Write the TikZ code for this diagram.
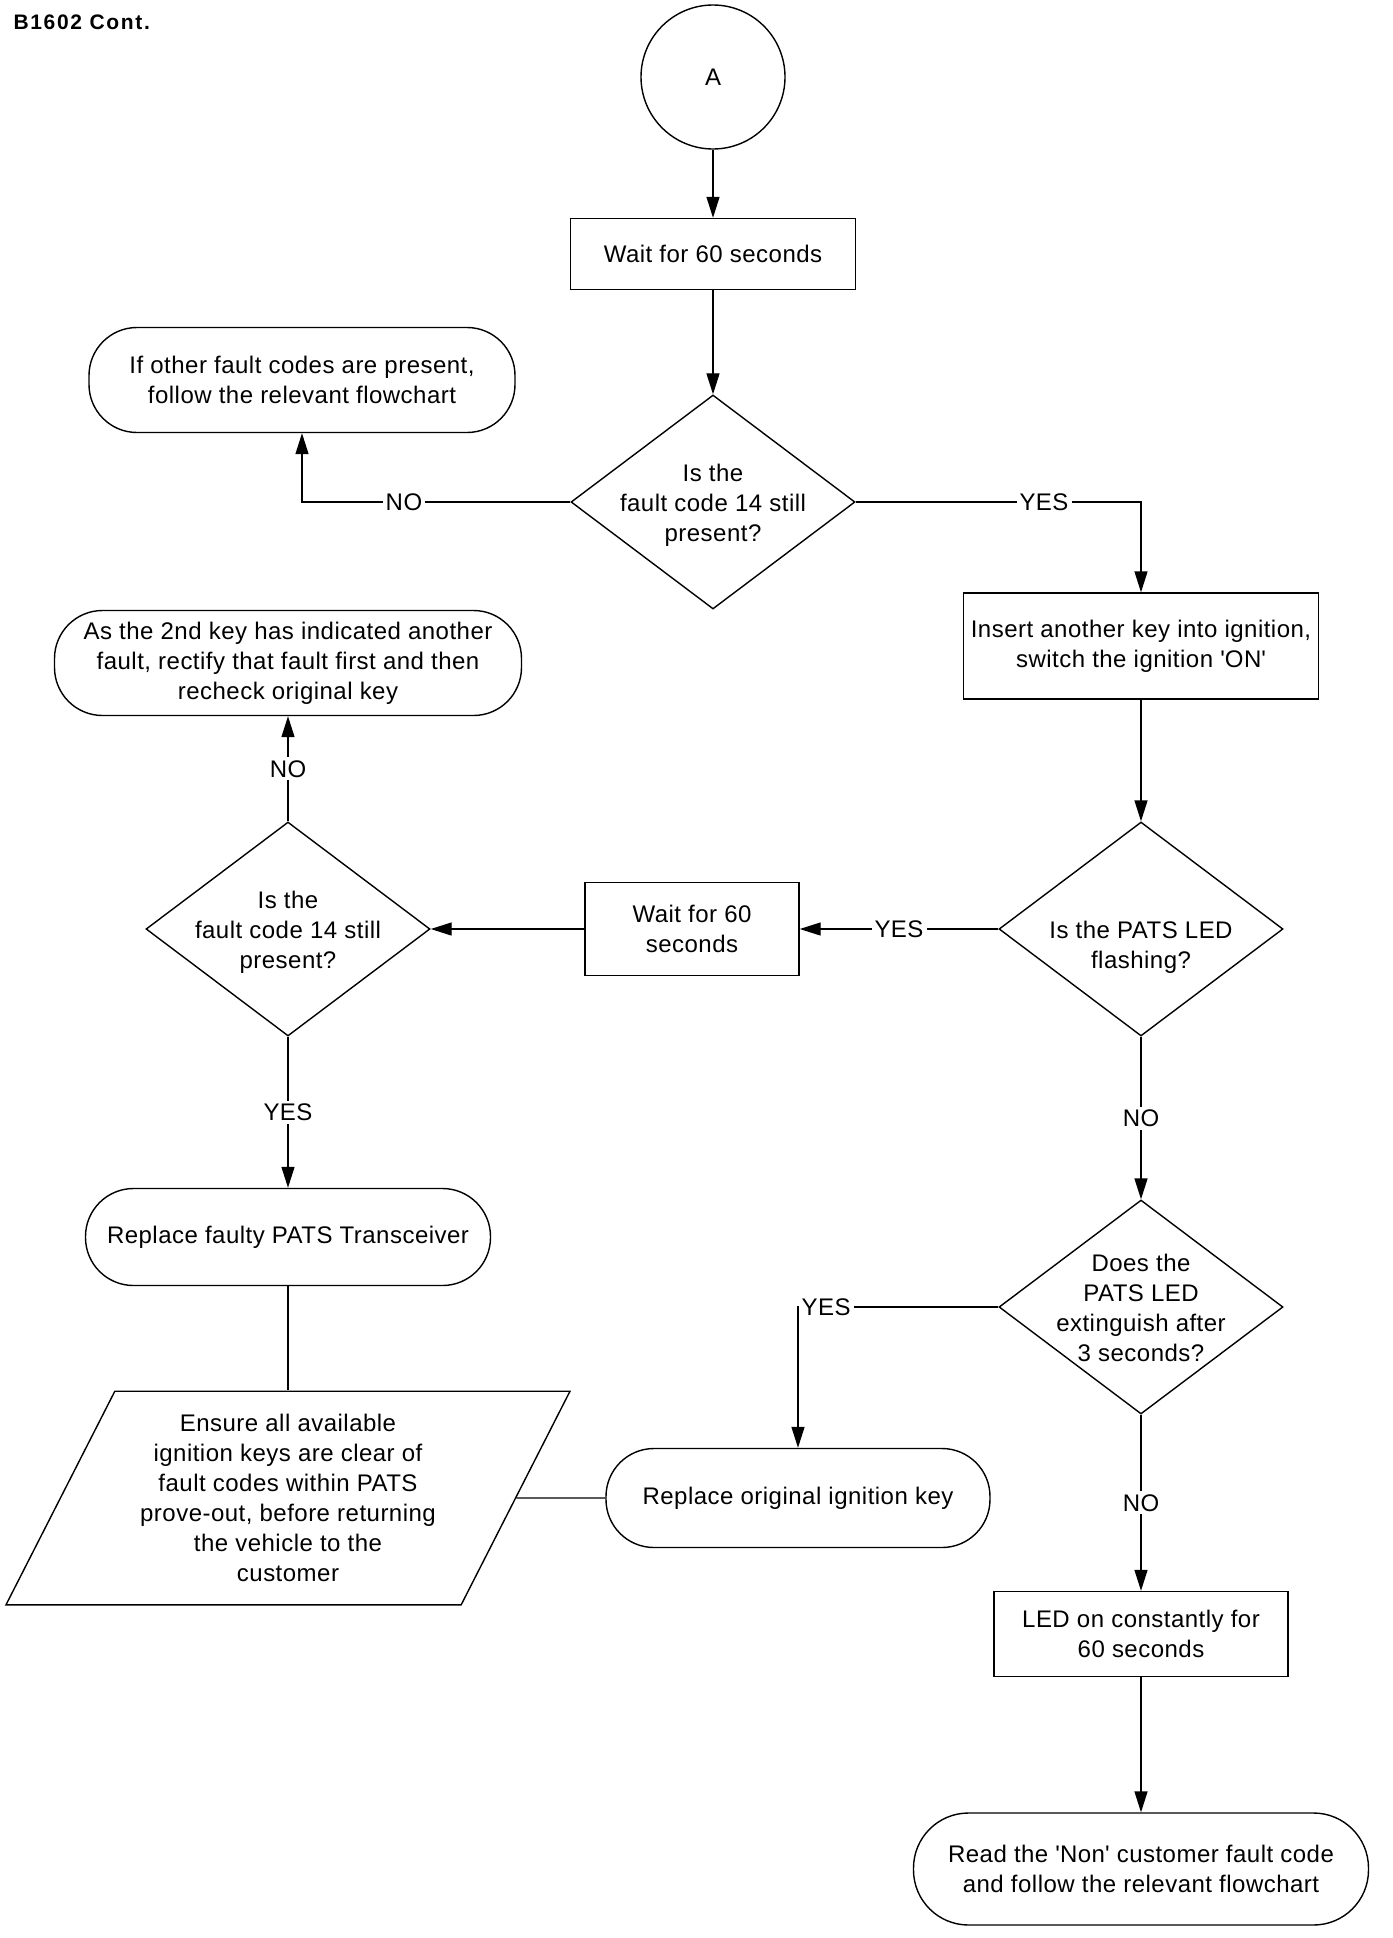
\documentclass[tikz,border=0pt]{standalone}
\usepackage{fontspec}
\setmainfont{Liberation Sans}[LetterSpace=2]
\usepackage{tikz}
\usetikzlibrary{shapes.geometric,arrows.meta}
\tikzstyle{arrow} = [line width=1.4pt, -{Triangle[length=21pt,width=13pt]}]
\tikzstyle{line} = [line width=1.4pt]
\tikzstyle{connector} = [circle, draw=black, line width=1.4pt, minimum size=144pt]
\tikzstyle{process} = [rectangle, draw=black, line width=1.4pt, align=center, inner sep=0pt]
\tikzstyle{terminal} = [rectangle, rounded corners=48pt, draw=black, line width=1.4pt, align=center, inner sep=0pt]
\tikzstyle{decision} = [diamond, draw=black, line width=1.4pt, minimum width=284pt, minimum height=214pt, inner sep=0pt]
\tikzstyle{io} = [trapezium, trapezium left angle=63, trapezium right angle=117, trapezium stretches body,
minimum width=564pt, inner xsep=0pt, inner ysep=23pt, align=center, draw=black, line width=1.4pt]
\tikzstyle{dtext} = [align=center, yshift=-3pt]
\tikzstyle{answer} = [fill=white, inner sep=3pt]

\begin{document}
\begin{tikzpicture}[x=1pt, y=1pt, font=\fontsize{24}{30}\selectfont]
                 \useasboundingbox (0,0) rectangle (1392,-1938);
                 \node (title) [anchor=west, font=\fontsize{21}{25}\selectfont\bfseries\addfontfeature{LetterSpace=8}] at (10,-22) {B1602 Cont.};
                 \node (start) [connector] at (713,-77) {A};
                 \node (wait1) [process, minimum width=285pt, minimum height=71pt, node distance=177pt, below of=start] {Wait for 60 seconds};
                 \node (dec1) [decision, node distance=248pt, below of=wait1,
                     label={[dtext]center:Is the\\fault code 14 still\\present?}] {};
                 \node (other) [terminal, minimum width=426pt, minimum height=105pt] at (302,-380) {%
                     If other fault codes are present,\\follow the relevant flowchart};
                 \node (insert) [process, minimum width=355pt, minimum height=106pt] at (1141,-646) {%
                     Insert another key into ignition,\\switch the ignition \textquotesingle ON\textquotesingle};
                 \node (dec2) [decision, node distance=283pt, below of=insert,
                     label={[dtext, yshift=-15pt]center:Is the PATS LED\\flashing?}] {};
                 \node (wait2) [process, minimum width=214pt, minimum height=93pt, node distance=449pt, left of=dec2] {%
                     Wait for 60\\seconds};
                 \node (dec3) [decision, node distance=404pt, left of=wait2,
                     label={[dtext]center:Is the\\fault code 14 still\\present?}] {};
                 \node (recheck) [terminal, minimum width=467pt, minimum height=105pt, node distance=266pt, above of=dec3] {%
                     As the 2nd key has indicated another\\fault, rectify that fault first and then\\recheck original key};
                 \node (transceiver) [terminal, minimum width=405pt, minimum height=97pt, node distance=308pt, below of=dec3] {%
                     Replace faulty PATS Transceiver};
                 \node (ensure) [io, node distance=261pt, below of=transceiver] {%
                     Ensure all available\\ignition keys are clear of\\fault codes within PATS\\
                     prove-out, before returning\\the vehicle to the\\customer};
                 \node (origkey) [terminal, minimum width=384pt, minimum height=99pt, node distance=510pt, right of=ensure] {%
                     Replace original ignition key};
                 \node (dec4) [decision, node distance=378pt, below of=dec2,
                     label={[dtext, yshift=2pt]center:Does the\\PATS LED\\extinguish after\\3 seconds?}] {};
                 \node (led) [process, minimum width=294pt, minimum height=85pt, node distance=327pt, below of=dec4] {%
                     LED on constantly for\\60 seconds};
                 \node (read) [terminal, rounded corners=55pt, minimum width=455pt, minimum height=112pt, node distance=235pt, below of=led] {%
                     Read the \textquotesingle Non\textquotesingle\ customer fault code\\and follow the relevant flowchart};
                 \draw [arrow] (start) -- (wait1);
                 \draw [arrow] (wait1) -- (dec1);
                 \draw [arrow] (dec1.west) -| node [answer, pos=0.31] {NO} (other.south);
                 \draw [arrow] (dec1.east) -| node [answer, pos=0.33] {YES} (insert.north);
                 \draw [arrow] (insert) -- (dec2);
                 \draw [arrow] (dec2.west) -- node [answer] {YES} (wait2.east);
                 \draw [arrow] (wait2.west) -- (dec3.east);
                 \draw [arrow] (dec3.north) -- node [answer] {NO} (recheck.south);
                 \draw [arrow] (dec3.south) -- node [answer] {YES} (transceiver.north);
                 \draw [line] (transceiver.south) -- (transceiver.south |- ensure.north);
                 \draw [arrow] (dec2.south) -- node [answer] {NO} (dec4.north);
                 \draw [arrow] (dec4.west) -| node [answer, pos=0.43] {YES} (origkey.north);
                 \draw [line] (origkey.west) -- (ensure.east);
                 \draw [arrow] (dec4.south) -- node [answer] {NO} (led.north);
                 \draw [arrow] (led) -- (read);
             \end{tikzpicture}
\end{document}
